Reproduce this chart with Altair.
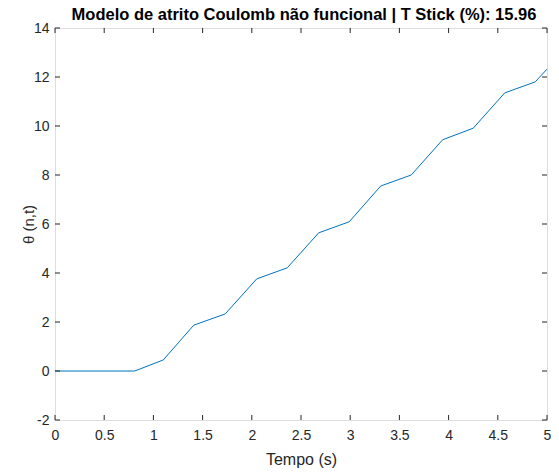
import altair as alt
import pandas as pd

t_vals = [0.0, 0.81, 1.10, 1.41, 1.73, 2.05, 2.36, 2.68, 2.99, 3.31, 3.62, 3.94, 4.25, 4.57, 4.88, 5.0]
theta_vals = [0.0, 0.0, 0.45, 1.87, 2.33, 3.76, 4.21, 5.64, 6.09, 7.55, 8.0, 9.44, 9.91, 11.35, 11.8, 12.32]
x_ticks = [0, 0.5, 1, 1.5, 2, 2.5, 3, 3.5, 4, 4.5, 5]
y_ticks = [-2, 0, 2, 4, 6, 8, 10, 12, 14]
title_text = "Modelo de atrito Coulomb não funcional | T Stick (%): 15.96"

W, H = 492, 392
INK = "#262626"
TL = 5

df = pd.DataFrame({"t": t_vals, "theta": theta_vals})
dfx = pd.DataFrame({"t": x_ticks})
dfy = pd.DataFrame({"theta": y_ticks})

xs = alt.Scale(domain=[0, 5], nice=False, zero=False)
ys = alt.Scale(domain=[-2, 14], nice=False, zero=False)

xax = alt.Axis(values=x_ticks, grid=False, domain=False, ticks=False,
               labelExpr="toString(datum.value)",
               labelPadding=8, labelFontSize=14,
               titleFontSize=16, labelColor=INK, titleColor=INK,
               titleFontWeight="normal", labelFont="Liberation Sans",
               titleFont="Liberation Sans", labelFlush=False,
               titleBaseline="alphabetic", titleY=44)
yax = alt.Axis(values=y_ticks, grid=False, domain=False, ticks=False,
               labelExpr="toString(datum.value)",
               labelPadding=6, labelFontSize=14,
               titleFontSize=15, labelColor=INK, titleColor=INK,
               titleFontWeight="normal", labelFont="Liberation Sans",
               titleFont="Liberation Sans", labelFlush=False,
               titleX=-22, titleY=H / 2, titleAngle=270, titleAlign="center",
               titleBaseline="alphabetic")

X = lambda: alt.X("t:Q", scale=xs, title="Tempo (s)", axis=xax)
Y = lambda: alt.Y("theta:Q", scale=ys, title="θ (n,t)", axis=yax)

line = alt.Chart(df).mark_line(color="#0072BD", strokeWidth=1).encode(x=X(), y=Y())

xb = alt.Chart(dfx).mark_rule(color=INK, strokeWidth=1).encode(
    x=X(), y=alt.value(H), y2=alt.value(H - TL))
xt = alt.Chart(dfx).mark_rule(color=INK, strokeWidth=1).encode(
    x=X(), y=alt.value(0), y2=alt.value(TL))
yl = alt.Chart(dfy).mark_rule(color=INK, strokeWidth=1).encode(
    y=Y(), x=alt.value(0), x2=alt.value(TL))
yr = alt.Chart(dfy).mark_rule(color=INK, strokeWidth=1).encode(
    y=Y(), x=alt.value(W), x2=alt.value(W - TL))

ttl = alt.Chart(pd.DataFrame({"label": [title_text]})).mark_text(
    font="Liberation Sans", fontSize=16.5, fontWeight="bold", color="#000000",
    align="center", baseline="alphabetic").encode(
    text="label:N", x=alt.value(W / 2 + 3), y=alt.value(-8))

chart = alt.layer(line, xb, xt, yl, yr, ttl).properties(
    width=W, height=H,
    autosize=alt.AutoSizeParams(type="none"),
    padding={"left": 47, "top": 20, "right": 4, "bottom": 50},
).configure_view(stroke=INK, strokeWidth=1).configure(background="white")

chart.save("out.html", embed_options={"renderer": "svg", "actions": False})
